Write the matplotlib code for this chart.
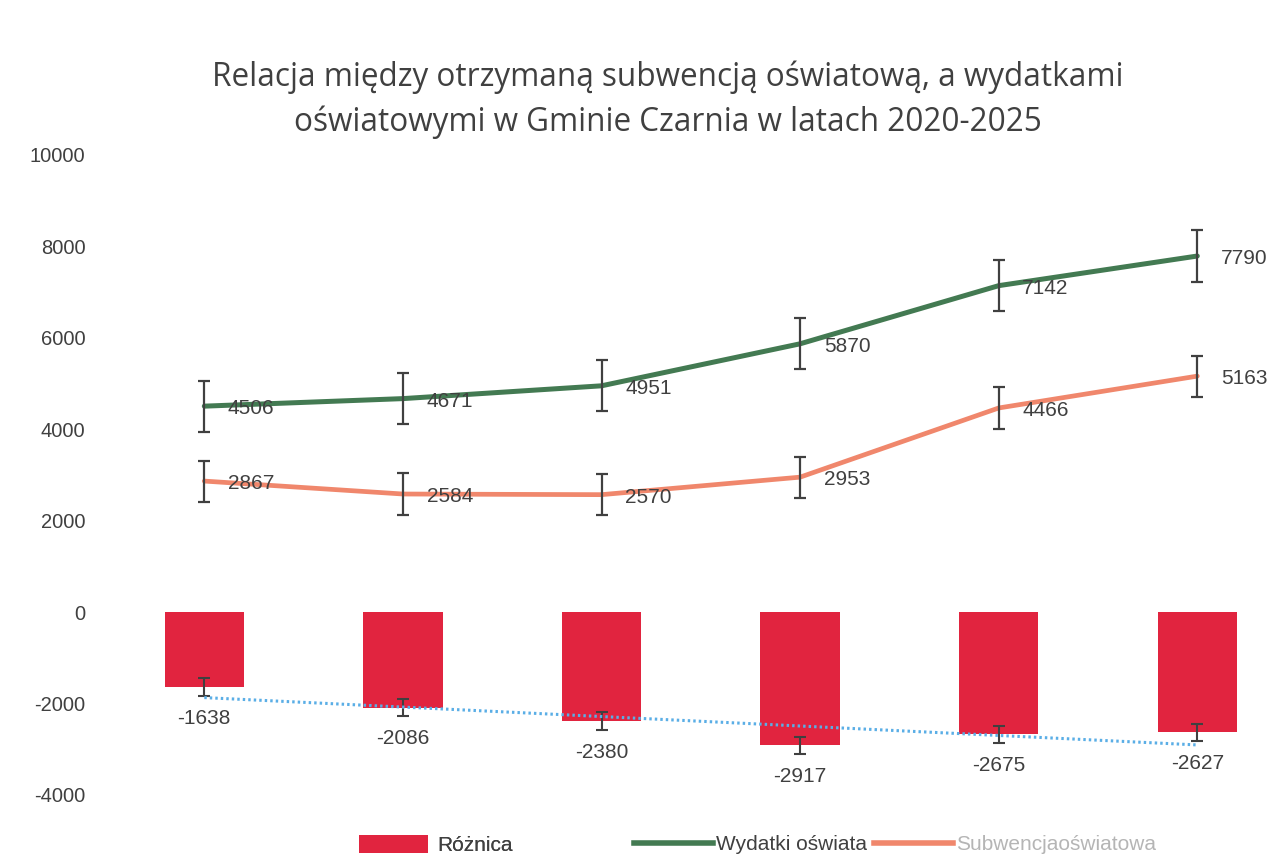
import numpy as np
import matplotlib
matplotlib.use("Agg")
import matplotlib.pyplot as plt
from matplotlib.patches import Patch
from matplotlib.lines import Line2D

years = ["2020", "2021", "2022", "2023", "2024", "2025"]
wydatki = [4506, 4671, 4951, 5870, 7142, 7790]
subwencja = [2867, 2584, 2570, 2953, 4466, 5163]
roznica = [-1638, -2086, -2380, -2917, -2675, -2627]
yticks = [-4000, -2000, 0, 2000, 4000, 6000, 8000, 10000]
title = "Relacja między otrzymaną subwencją oświatową, a wydatkami\noświatowymi w Gminie Czarnia w latach 2020-2025"
legend_labels = ["Różnica", "Wydatki oświata", "Subwencjaoświatowa"]

GREEN = "#437a52"
SALMON = "#f0876c"
RED = "#e1243f"
BLUE = "#5aaee6"
TXT = "#404040"
ERR = "#404040"

def stderr(v):
    v = np.asarray(v, float)
    return v.std(ddof=1) / np.sqrt(len(v))

fig = plt.figure(figsize=(12.85, 8.61), dpi=100)
W, H = 1285, 861
L, R, T, B = 105, 1280, 155, 795
ax = fig.add_axes([L / W, 1 - B / H, (R - L) / W, (B - T) / H])
x = np.arange(len(years))

ax.bar(x, roznica, width=0.40, color=RED, zorder=2)
ax.errorbar(x, roznica, yerr=stderr(roznica), fmt="none", ecolor=ERR, elinewidth=1.5, capsize=4, capthick=1.5, zorder=3)

# linear trendline for Różnica
coef = np.polyfit(x, roznica, 1)
ax.plot(x, np.polyval(coef, x), color=BLUE, lw=2.2, ls=(0, (0.8, 1.0)), zorder=4)

ax.plot(x, wydatki, color=GREEN, lw=3.6, solid_capstyle="round", solid_joinstyle="round", zorder=5)
ax.errorbar(x, wydatki, yerr=stderr(wydatki), fmt="none", ecolor=ERR, elinewidth=1.6, capsize=4.5, capthick=1.6, zorder=6)
ax.plot(x, subwencja, color=SALMON, lw=3.4, solid_capstyle="round", solid_joinstyle="round", zorder=5)
ax.errorbar(x, subwencja, yerr=stderr(subwencja), fmt="none", ecolor=ERR, elinewidth=1.6, capsize=4.5, capthick=1.6, zorder=6)

lab_font = dict(family=["Liberation Sans", "DejaVu Sans"], fontsize=15, color=TXT)
for xi, v in zip(x, wydatki):
    ax.annotate(str(v), (xi, v), xytext=(17, -2), textcoords="offset points", ha="left", va="center", zorder=7, **lab_font)
for xi, v in zip(x, subwencja):
    ax.annotate(str(v), (xi, v), xytext=(17, -2), textcoords="offset points", ha="left", va="center", zorder=7, **lab_font)
for xi, v in zip(x, roznica):
    ax.annotate(str(v), (xi, v), xytext=(0, -22.5), textcoords="offset points", ha="center", va="center", zorder=7, **lab_font)

ax.set_xlim(-0.5, -0.5 + (R - L) / 198.6)
ax.set_ylim(-4000, 10000)
ax.set_yticks(yticks)
ax.set_yticklabels([str(t) for t in yticks], family=["Liberation Sans", "DejaVu Sans"], fontsize=14.5, color=TXT)
ax.tick_params(axis="y", length=0, pad=14)
ax.set_xticks([])
for s in ax.spines.values():
    s.set_visible(False)

fig.text(668 / W, 1 - 100 / H, title, ha="center", va="center", fontsize=22.7, color=TXT,
         family=["Open Sans", "DejaVu Sans"], linespacing=1.45)

leg_font = {"family": ["Liberation Sans Narrow", "Liberation Sans", "DejaVu Sans"], "size": 15}
h1 = [Patch(facecolor=RED, edgecolor="none")]
leg1 = fig.legend(h1, legend_labels[:1], loc="center", bbox_to_anchor=(436 / W, 1 - 845 / H),
                  frameon=False, prop=leg_font, handlelength=3.3, handleheight=0.95, handletextpad=0.45)
for t in leg1.get_texts():
    t.set_color(TXT)
fig.add_artist(leg1)
h2 = [Line2D([], [], color=GREEN, lw=4), Line2D([], [], color=SALMON, lw=4)]
leg2 = fig.legend(h2, legend_labels[1:], loc="center", bbox_to_anchor=(895 / W, 1 - 845 / H), ncol=2,
                  frameon=False, prop=leg_font, handlelength=3.8, handletextpad=0.15, columnspacing=0.3)
leg2.get_texts()[0].set_color(TXT)
leg2.get_texts()[1].set_color("#b5b5b5")

fig.savefig("out.png", dpi=100, facecolor="white")
